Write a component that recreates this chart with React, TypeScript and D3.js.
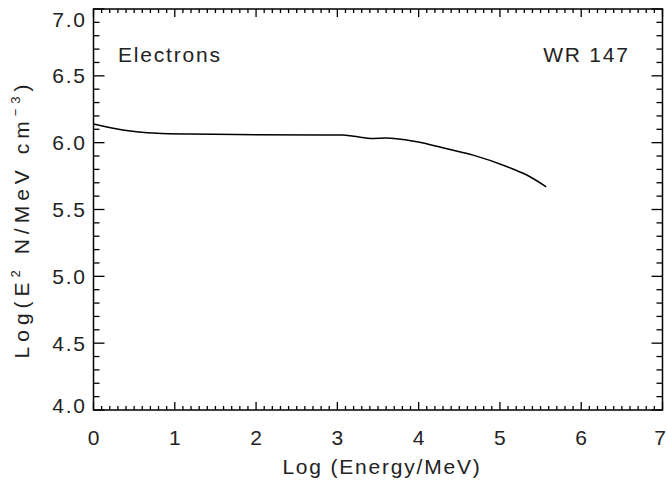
import React from "react";
import * as d3 from "d3";

// Electron spectrum: log energy (MeV) vs log(E^2 N)
const logEnergy = [0.0, 0.36, 0.78, 1.19, 2.0, 2.79, 3.06, 3.2, 3.44, 3.6, 3.73, 3.98, 4.36, 4.67, 5.09, 5.33, 5.57];
const logE2N = [6.139, 6.094, 6.07, 6.064, 6.06, 6.057, 6.057, 6.048, 6.032, 6.034, 6.03, 6.007, 5.952, 5.907, 5.82, 5.758, 5.67];

const xTicks = [0, 1, 2, 3, 4, 5, 6, 7];
const yTicks = [4.0, 4.5, 5.0, 5.5, 6.0, 6.5, 7.0];

const W = 667;
const H = 482;
const M = { left: 93.5, right: 662.5, top: 9, bottom: 410 };
const FONT = "'Liberation Sans', Arial, sans-serif";
const LS = 1.8;

export default function App() {
  const x = d3.scaleLinear().domain([0, 7]).range([M.left, M.right]);
  const y = d3.scaleLinear().domain([4, 7]).range([M.bottom, M.top]);

  const line = d3
    .line<number>()
    .x((_, i) => x(logEnergy[i]))
    .y((d) => y(d))
    .curve(d3.curveMonotoneX);

  const xMinor = d3.range(0, 70).map((i) => i / 10).filter((v) => Math.abs(v - Math.round(v)) > 1e-6);
  const yMinor = d3.range(40, 70).map((i) => i / 10).filter((v) => Math.abs(v * 2 - Math.round(v * 2)) > 1e-6);

  // end labels are nudged inward so they stay clear of the frame corners
  const yLabelPos = (t: number) => {
    if (t === 7) return y(t) + 10;
    if (t === 4) return y(t) - 5;
    return y(t);
  };

  return (
    <svg width={W} height={H} style={{ display: "block", position: "absolute", left: 0, top: 0 }}>
      <rect width={W} height={H} fill="#fff" />
      <g stroke="#000" strokeWidth={1.3} fill="none">
        <rect x={M.left} y={M.top} width={M.right - M.left} height={M.bottom - M.top} strokeWidth={1.5} />
        {xTicks.map((t) => (
          <g key={"xt" + t}>
            <line x1={x(t)} x2={x(t)} y1={M.bottom} y2={M.bottom - 8} />
            <line x1={x(t)} x2={x(t)} y1={M.top} y2={M.top + 8} />
          </g>
        ))}
        {xMinor.map((t) => (
          <g key={"xm" + t}>
            <line x1={x(t)} x2={x(t)} y1={M.bottom} y2={M.bottom - 4} />
            <line x1={x(t)} x2={x(t)} y1={M.top} y2={M.top + 4} />
          </g>
        ))}
        {yTicks.map((t) => (
          <g key={"yt" + t}>
            <line x1={M.left} x2={M.left + 11} y1={y(t)} y2={y(t)} />
            <line x1={M.right} x2={M.right - 11} y1={y(t)} y2={y(t)} />
          </g>
        ))}
        {yMinor.map((t) => (
          <g key={"ym" + t}>
            <line x1={M.left} x2={M.left + 6} y1={y(t)} y2={y(t)} />
            <line x1={M.right} x2={M.right - 6} y1={y(t)} y2={y(t)} />
          </g>
        ))}
        <path d={line(logE2N) || ""} strokeWidth={1.5} />
      </g>
      <g fontFamily={FONT} fontSize={21} fill="#222" letterSpacing={LS}>
        {xTicks.map((t) => (
          <text key={"xl" + t} x={Math.min(x(t) + LS / 2, 661)} y={445} textAnchor="middle">
            {t}
          </text>
        ))}
        {yTicks.map((t) => (
          <text key={"yl" + t} x={85 + LS} y={yLabelPos(t) + 7.5} textAnchor="end">
            {t.toFixed(1)}
          </text>
        ))}
        <text x={(M.left + M.right) / 2 + 4} y={474} textAnchor="middle">
          Log (Energy/MeV)
        </text>
        <text
          transform={`translate(29, 219) rotate(-90)`}
          textAnchor="middle"
          letterSpacing={5}
        >
          Log(E<tspan fontSize={13} dy={-9}>2</tspan>
          <tspan dy={9}> N/MeV cm</tspan>
          <tspan fontSize={13} dy={-9}>−3</tspan>
          <tspan dy={9}>)</tspan>
        </text>
        <text x={118} y={62}>Electrons</text>
        <text x={628 + LS} y={62} textAnchor="end">WR 147</text>
      </g>
    </svg>
  );
}
